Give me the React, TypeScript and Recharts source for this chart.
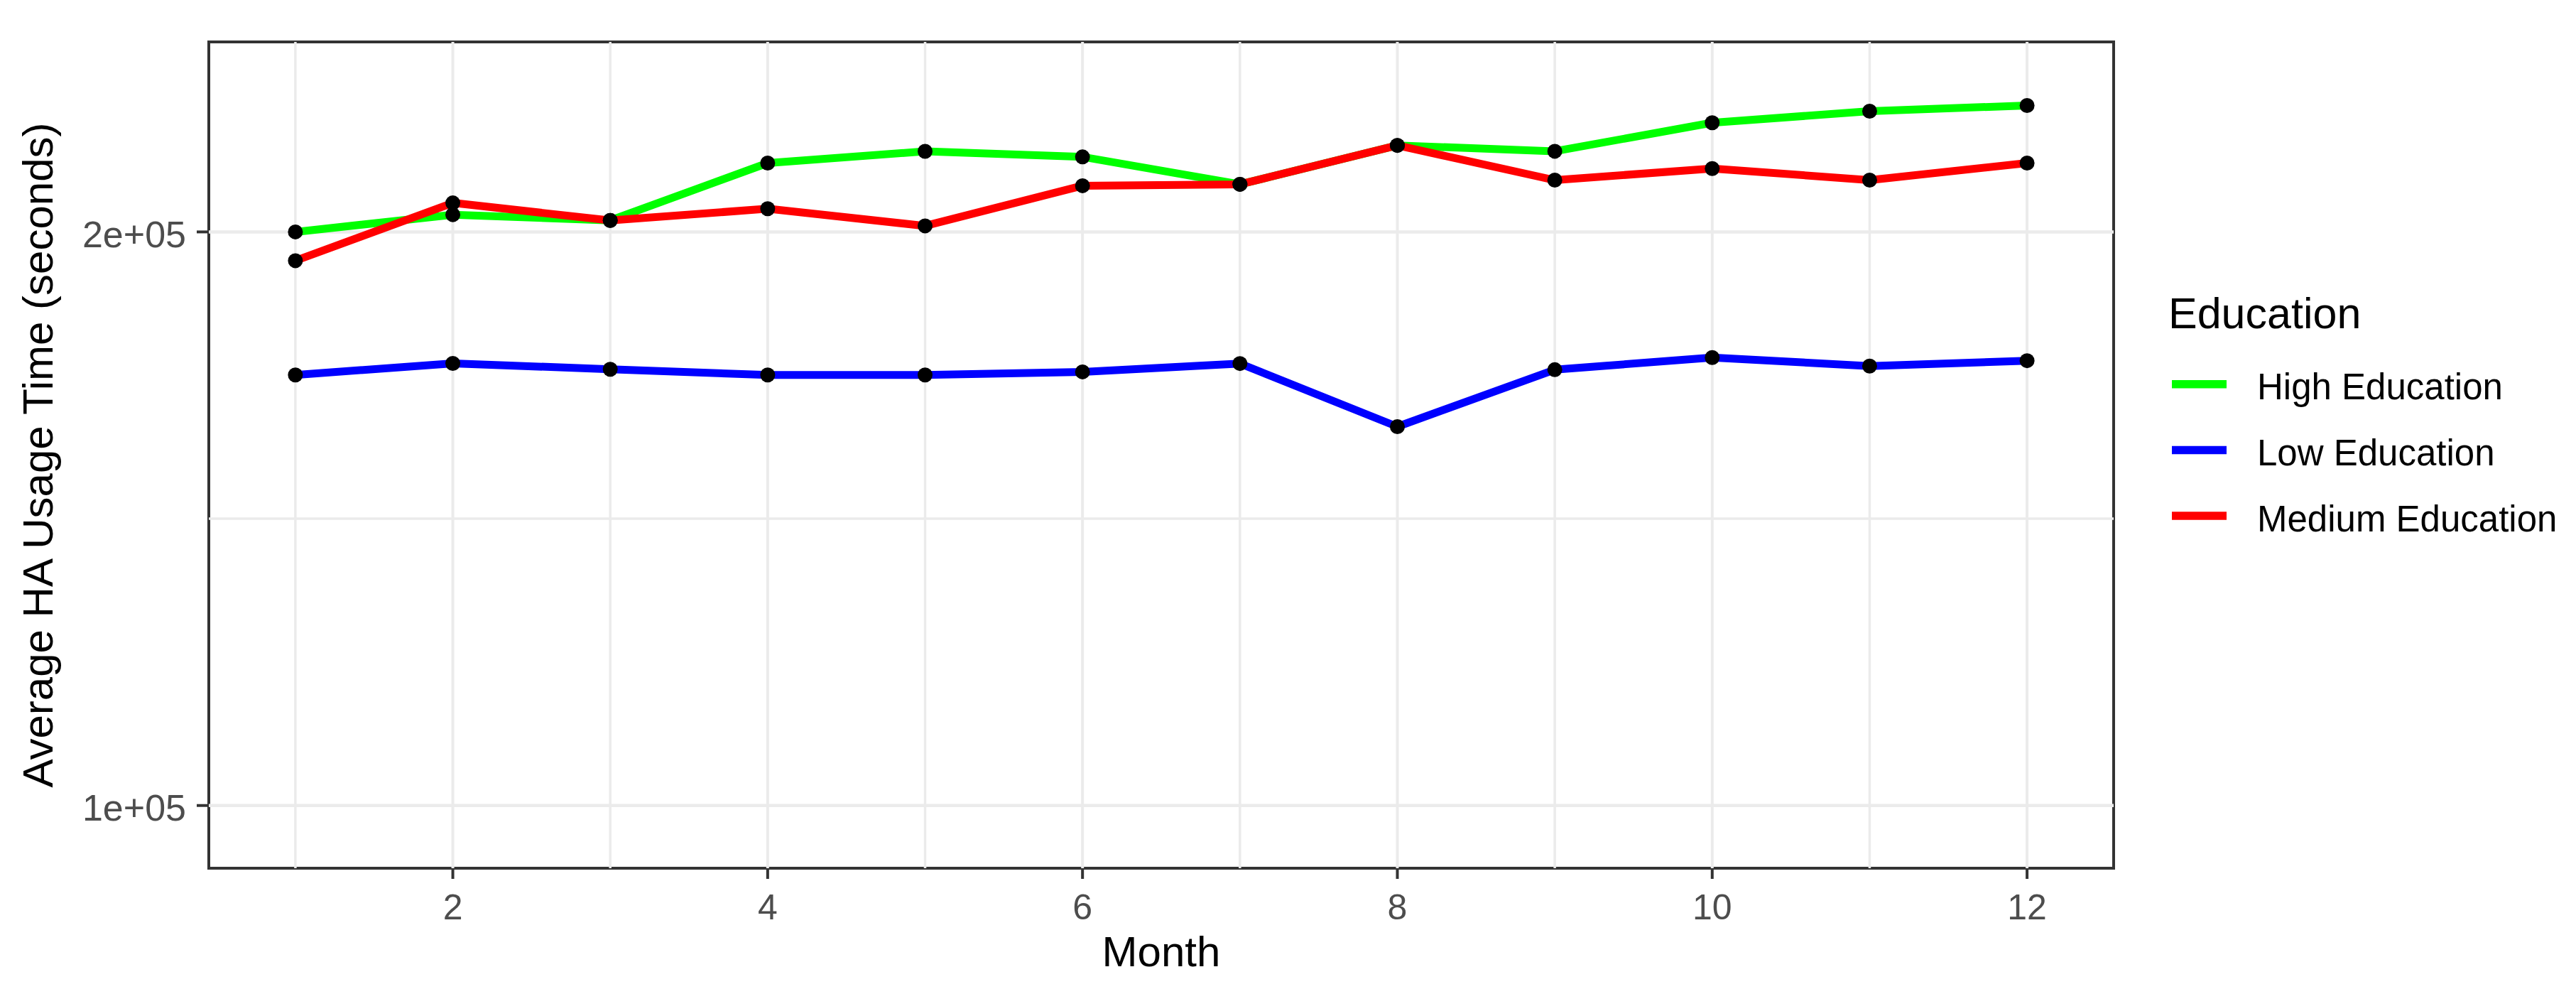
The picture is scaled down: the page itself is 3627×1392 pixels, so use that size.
import React from 'react';
import { LineChart, Line, XAxis, YAxis, ReferenceLine, ReferenceArea } from 'recharts';

// ---- data ----
const months = [1, 2, 3, 4, 5, 6, 7, 8, 9, 10, 11, 12];
const highEducation = [200000, 203000, 202000, 212000, 214050, 213080, 208300, 215080, 214060, 219030, 221050, 222040];
const lowEducation = [175060, 177080, 176050, 175060, 175060, 175600, 177050, 166050, 175980, 178100, 176610, 177550];
const mediumEducation = [194980, 205060, 202000, 204040, 201050, 208050, 208300, 215080, 209030, 211050, 209030, 212000];

const seriesKeys = ['high', 'low', 'medium'];
const seriesNames = ['High Education', 'Low Education', 'Medium Education'];
const seriesColors = ['#00FF00', '#0000FF', '#FF0000'];

const xTicks = [2, 4, 6, 8, 10, 12];
const xMinorGrid = [1, 3, 5, 7, 9, 11];
const yTicks = [100000, 200000];
const yTickLabels = ['1e+05', '2e+05'];
const yMinorGrid = [150000];

const xDomain = [0.45, 12.55];
const yDomain = [89066, 233124];

const legendTitle = 'Education';
const xTitle = 'Month';
const yTitle = 'Average HA Usage Time (seconds)';

const chartData = months.map((m, i) => ({
  month: m,
  high: highEducation[i],
  low: lowEducation[i],
  medium: mediumEducation[i],
}));

const FONT = '"Liberation Sans", Arial, Helvetica, sans-serif';
const W = 3627;
const H = 1392;
const PLOT_LEFT = 294;
const PLOT_TOP = 59;
const PLOT_RIGHT = 2976;
const PLOT_BOTTOM = 1222;
const Y_AXIS_W = 120;
const X_AXIS_H = 120;

export default function App() {
  return (
    <div style={{ position: 'absolute', left: 0, top: 0, width: W, height: H, background: '#ffffff' }}>
      <LineChart
        width={W}
        height={H}
        data={chartData}
        margin={{
          top: PLOT_TOP,
          right: W - PLOT_RIGHT,
          bottom: H - PLOT_BOTTOM - X_AXIS_H,
          left: PLOT_LEFT - Y_AXIS_W,
        }}
        style={{ position: 'absolute', left: 0, top: 0 }}
      >
        <XAxis
          dataKey="month"
          type="number"
          domain={xDomain}
          ticks={xTicks}
          allowDataOverflow
          height={X_AXIS_H}
          axisLine={false}
          tickLine={{ stroke: '#333333', strokeWidth: 4 }}
          tickSize={15}
          tickMargin={21}
          tick={{ fontSize: 50, fill: '#4D4D4D', fontFamily: FONT }}
        />
        <YAxis
          type="number"
          domain={yDomain}
          ticks={yTicks}
          allowDataOverflow
          width={Y_AXIS_W}
          axisLine={false}
          tickLine={{ stroke: '#333333', strokeWidth: 4 }}
          tickSize={17}
          tickMargin={15}
          tickFormatter={(v: number) => yTickLabels[yTicks.indexOf(v)] ?? String(v)}
          tick={{ fontSize: 52, fill: '#4D4D4D', fontFamily: FONT, dy: 3 }}
        />
        {xMinorGrid.map((v) => (
          <ReferenceLine key={'xm' + v} x={v} stroke="#EBEBEB" strokeWidth={3.5} ifOverflow="visible" />
        ))}
        {yMinorGrid.map((v) => (
          <ReferenceLine key={'ym' + v} y={v} stroke="#EBEBEB" strokeWidth={3.5} ifOverflow="visible" />
        ))}
        {xTicks.map((v) => (
          <ReferenceLine key={'xM' + v} x={v} stroke="#EBEBEB" strokeWidth={4} ifOverflow="visible" />
        ))}
        {yTicks.map((v) => (
          <ReferenceLine key={'yM' + v} y={v} stroke="#EBEBEB" strokeWidth={4.5} ifOverflow="visible" />
        ))}
        {seriesKeys.map((k, i) => (
          <Line
            key={'line-' + k}
            type="linear"
            dataKey={k}
            name={seriesNames[i]}
            stroke={seriesColors[i]}
            strokeWidth={11}
            strokeLinejoin="round"
            dot={false}
            activeDot={false}
            isAnimationActive={false}
          />
        ))}
        {seriesKeys.map((k) => (
          <Line
            key={'pts-' + k}
            type="linear"
            dataKey={k}
            stroke="none"
            strokeWidth={0}
            dot={{ r: 10.5, fill: '#000000', stroke: 'none' }}
            activeDot={false}
            legendType="none"
            isAnimationActive={false}
          />
        ))}
        <ReferenceArea
          x1={xDomain[0]}
          x2={xDomain[1]}
          y1={yDomain[0]}
          y2={yDomain[1]}
          fill="none"
          stroke="#333333"
          strokeWidth={4}
          ifOverflow="visible"
        />
      </LineChart>
      <svg
        width={W}
        height={H}
        style={{ position: 'absolute', left: 0, top: 0, pointerEvents: 'none' }}
      >
        <text
          x={(PLOT_LEFT + PLOT_RIGHT) / 2}
          y={1360}
          textAnchor="middle"
          fontSize={60}
          fontFamily={FONT}
          fill="#000000"
        >
          {xTitle}
        </text>
        <text
          x={74}
          y={(PLOT_TOP + PLOT_BOTTOM) / 2}
          textAnchor="middle"
          fontSize={60}
          fontFamily={FONT}
          fill="#000000"
          transform={`rotate(-90, 74, ${(PLOT_TOP + PLOT_BOTTOM) / 2})`}
        >
          {yTitle}
        </text>
        <text x={3053} y={462} fontSize={61} fontFamily={FONT} fill="#000000">
          {legendTitle}
        </text>
        {seriesNames.map((name, i) => {
          const cy = 540.7 + i * 92.7;
          return (
            <g key={'leg-' + name}>
              <line x1={3058} x2={3135} y1={cy} y2={cy} stroke={seriesColors[i]} strokeWidth={11.5} />
              <text x={3178} y={cy + 21.6} fontSize={51} fontFamily={FONT} fill="#000000">
                {name}
              </text>
            </g>
          );
        })}
      </svg>
    </div>
  );
}
